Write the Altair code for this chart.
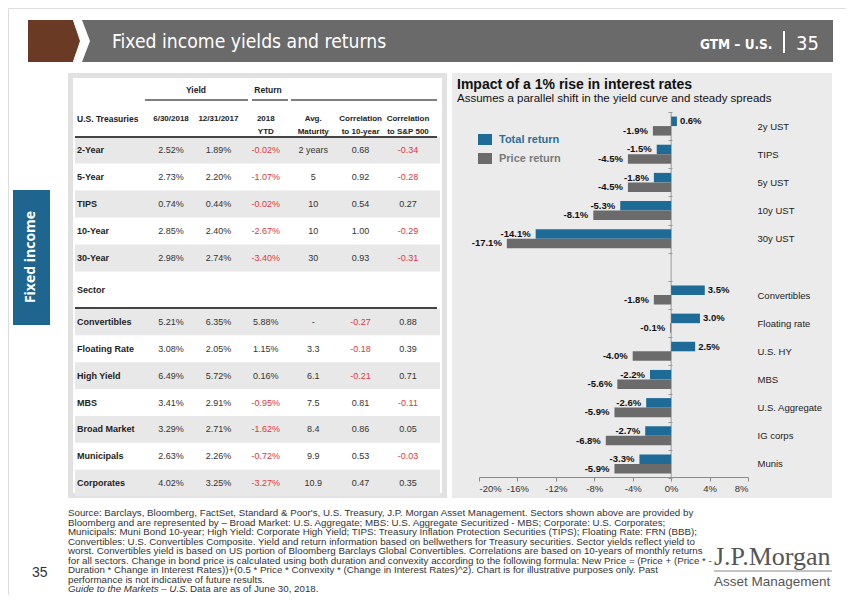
import altair as alt
import pandas as pd

# ---------------- data ----------------
impact_categories = ["2y UST", "TIPS", "5y UST", "10y UST", "30y UST",
                     "Convertibles", "Floating rate", "U.S. HY", "MBS",
                     "U.S. Aggregate", "IG corps", "Munis"]
total_return = [0.6, -1.5, -1.8, -5.3, -14.1, 3.5, 3.0, 2.5, -2.2, -2.6, -2.7, -3.3]
price_return = [-1.9, -4.5, -4.5, -8.1, -17.1, -1.8, -0.1, -4.0, -5.6, -5.9, -6.8, -5.9]
impact_axis_order = impact_categories[:5] + [" "] + impact_categories[5:]
x_ticks = [-20, -16, -12, -8, -4, 0, 4, 8]
series_names = ["Total return", "Price return"]

col_keys = ["y2018", "y2017", "ytd", "mat", "c10", "csp"]
col_headers = ["6/30/2018", "12/31/2017", "2018\nYTD", "Avg.\nMaturity",
               "Correlation\nto 10-year", "Correlation\nto S&P 500"]

treasuries = ["2-Year", "5-Year", "TIPS", "10-Year", "30-Year"]
tsy_yield_2018 = [2.52, 2.73, 0.74, 2.85, 2.98]
tsy_yield_2017 = [1.89, 2.20, 0.44, 2.40, 2.74]
tsy_ytd = [-0.02, -1.07, -0.02, -2.67, -3.40]
tsy_maturity = ["2 years", "5", "10", "10", "30"]
tsy_corr10 = [0.68, 0.92, 0.54, 1.00, 0.93]
tsy_corrsp = [-0.34, -0.28, 0.27, -0.29, -0.31]

sectors = ["Convertibles", "Floating Rate", "High Yield", "MBS",
           "Broad Market", "Municipals", "Corporates"]
sec_yield_2018 = [5.21, 3.08, 6.49, 3.41, 3.29, 2.63, 4.02]
sec_yield_2017 = [6.35, 2.05, 5.72, 2.91, 2.71, 2.26, 3.25]
sec_ytd = [5.88, 1.15, 0.16, -0.95, -1.62, -0.72, -3.27]
sec_maturity = ["-", "3.3", "6.1", "7.5", "8.4", "9.9", "10.9"]
sec_corr10 = [-0.27, -0.18, -0.21, 0.81, 0.86, 0.53, 0.47]
sec_corrsp = [0.88, 0.39, 0.71, -0.11, 0.05, -0.03, 0.35]

footer_lines = [
    "Source: Barclays, Bloomberg, FactSet, Standard & Poor's, U.S. Treasury, J.P. Morgan Asset Management. Sectors shown above are provided by",
    "Bloomberg and are represented by \u2013 Broad Market: U.S. Aggregate; MBS: U.S. Aggregate Securitized - MBS; Corporate: U.S. Corporates;",
    "Municipals: Muni Bond 10-year; High Yield: Corporate High Yield; TIPS: Treasury Inflation Protection Securities (TIPS); Floating Rate: FRN (BBB);",
    "Convertibles: U.S. Convertibles Composite. Yield and return information based on bellwethers for Treasury securities. Sector yields reflect yield to",
    "worst. Convertibles yield is based on US portion of Bloomberg Barclays Global Convertibles. Correlations are based on 10-years of monthly returns",
    "for all sectors. Change in bond price is calculated using both duration and convexity according to the following formula: New Price = (Price + (Price * -",
    "Duration * Change in Interest Rates))+(0.5 * Price * Convexity * (Change in Interest Rates)^2). Chart is for illustrative purposes only. Past",
    "performance is not indicative of future results.",
]
footer_italic = "Guide to the Markets \u2013 U.S."
footer_rest = "Data are as of June 30, 2018."

# ---------------- styles ----------------
FONT = "Liberation Sans, Arial, sans-serif"
COND = "'Liberation Sans Narrow', 'DejaVu Sans Condensed', 'Roboto Condensed', 'Open Sans', sans-serif"
BANNER_GREY = "#6a6a6a"
BROWN = "#6b3a24"
SIDE_BLUE = "#1e6690"
BAR_BLUE = "#1f6b97"
BAR_GREY = "#6b6b6b"
PANEL = "#ebebeb"
SHADE = "#e8e8e8"
RED = "#e0363e"
TXT = "#333333"
FOOT_SIZE = 9.75

one = pd.DataFrame({"k": [0]})
V = alt.value


def box(x1, y1, x2, y2, **kw):
    return alt.Chart(one).mark_rect(**kw).encode(
        x=V(x1 - 8), x2=V(x2 - 8), y=V(y1 - 8), y2=V(y2 - 8))


def hline(x1, x2, y, color, w):
    return alt.Chart(one).mark_rule(color=color, strokeWidth=w).encode(
        x=V(x1 - 8), x2=V(x2 - 8), y=V(y - 8))


def label(x, y, s, **kw):
    kw.setdefault("font", FONT)
    return alt.Chart(one).mark_text(text=s, **kw).encode(x=V(x - 8), y=V(y - 8))


layers = []

# ---------------- header banner ----------------
layers.append(box(76, 20, 833, 62, color=BANNER_GREY))
BROWN_PATH = "M-1.238,-1L0.905,-1L1.238,0L0.905,1L-1.238,1Z"
WHITE_PATH = "M0.905,-1L1.333,-1L1.714,0L1.333,1L0.905,1L1.238,0Z"
layers.append(alt.Chart(one).mark_point(shape=BROWN_PATH, size=1764, filled=True, fill=BROWN,
                                        opacity=1, strokeWidth=0).encode(x=V(46), y=V(33)))
layers.append(alt.Chart(one).mark_point(shape=WHITE_PATH, size=1764, filled=True, fill="white",
                                        opacity=1, strokeWidth=0).encode(x=V(46), y=V(33)))
layers.append(label(112, 48, "Fixed income yields and returns", font=COND, fontSize=19.2,
                    color="white", align="left", baseline="alphabetic"))
layers.append(label(700, 49, "GTM \u2013 U.S.", font=COND, fontSize=13.5, fontWeight="bold",
                    color="white", align="left", baseline="alphabetic"))
layers.append(alt.Chart(one).mark_rule(color="white", strokeWidth=2).encode(
    x=V(776), y=V(23), y2=V(45)))
layers.append(label(796, 50, "35", font=COND, fontSize=20, color="white",
                    align="left", baseline="alphabetic"))

# ---------------- side tab ----------------
layers.append(box(13, 190, 50, 325, color=SIDE_BLUE))
layers.append(label(31, 257, "Fixed income", font="Open Sans, " + FONT, fontSize=14,
                    fontWeight="bold", color="white", angle=270, align="center",
                    baseline="middle"))

# ---------------- table ----------------
layers.append(box(70.5, 75.5, 444.5, 495.5, fill="white", stroke="#e1e1e1", strokeWidth=5))

col_scale = alt.Scale(type="point", domain=col_keys, range=[163, 400], padding=0)


def fmt_pct(v):
    return f"{v:.2f}%"


def fmt_corr(v):
    return f"{v:.2f}"


def cells(rows, y18, y17, ytd, mat, c10, csp):
    recs = []
    for i, r in enumerate(rows):
        vals = [
            (fmt_pct(y18[i]), y18[i] < 0),
            (fmt_pct(y17[i]), y17[i] < 0),
            (fmt_pct(ytd[i]), ytd[i] < 0),
            (mat[i], False),
            (fmt_corr(c10[i]), c10[i] < 0),
            (fmt_corr(csp[i]), csp[i] < 0),
        ]
        for k, (t, neg) in zip(col_keys, vals):
            recs.append({"row": r, "col": k, "txt": t, "sign": "neg" if neg else "pos"})
    return pd.DataFrame(recs)


def table_block(rows, rng, cell_df):
    yenc = alt.Y("row:N", scale=alt.Scale(type="band", domain=rows, range=rng,
                                          paddingInner=0, paddingOuter=0), axis=None)
    shaded = pd.DataFrame({"row": rows[0::2]})
    names = pd.DataFrame({"row": rows})
    out = [
        alt.Chart(shaded).mark_rect(color=SHADE).encode(y=yenc, x=V(67), x2=V(432)),
        alt.Chart(names).mark_text(align="left", baseline="middle", font=FONT, fontSize=9,
                                   fontWeight="bold", color="#222").encode(
            y=yenc, x=V(69), text="row:N"),
        alt.Chart(cell_df).mark_text(align="center", baseline="middle", font=FONT,
                                     fontSize=9).encode(
            y=yenc,
            x=alt.X("col:N", scale=col_scale, axis=None),
            text="txt:N",
            color=alt.Color("sign:N", scale=alt.Scale(domain=["pos", "neg"], range=[TXT, RED]),
                            legend=None)),
    ]
    return out


tsy_df = cells(treasuries, tsy_yield_2018, tsy_yield_2017, tsy_ytd, tsy_maturity, tsy_corr10, tsy_corrsp)
sec_df = cells(sectors, sec_yield_2018, sec_yield_2017, sec_ytd, sec_maturity, sec_corr10, sec_corrsp)

layers += table_block(treasuries, [128.6, 263.4], tsy_df)
layers += table_block(sectors, [300.5, 488.5], sec_df)

# header
layers.append(label(196, 90, "Yield", fontSize=8.5, fontWeight="bold", color="#222",
                    align="center", baseline="middle"))
layers.append(label(268, 90, "Return", fontSize=8.5, fontWeight="bold", color="#222",
                    align="center", baseline="middle"))
layers.append(hline(145, 248, 100, "#555", 1.5))
layers.append(hline(252, 288, 100, "#555", 1.5))
layers.append(hline(291, 437, 100, "#555", 1.5))
layers.append(label(77, 119, "U.S. Treasuries", fontSize=8.5, fontWeight="bold", color="#222",
                    align="left", baseline="middle"))
hdr_df = pd.DataFrame({"col": col_keys, "txt": col_headers})
layers.append(alt.Chart(hdr_df).mark_text(align="center", baseline="middle", font=FONT,
                                          fontSize=8, fontWeight="bold", color="#222",
                                          lineBreak="\n", lineHeight=12.5).encode(
    x=alt.X("col:N", scale=col_scale, axis=None), y=V(111), text="txt:N"))
layers.append(hline(75, 437, 137, "#444", 2))
layers.append(label(77, 290, "Sector", fontSize=9, fontWeight="bold", color="#222",
                    align="left", baseline="middle"))
layers.append(hline(75, 437, 308, "#444", 2))

# ---------------- impact chart ----------------
layers.append(box(452, 73, 832, 498, color=PANEL))
layers.append(label(457, 89, "Impact of a 1% rise in interest rates", fontSize=14,
                    fontWeight="bold", color="#111", align="left", baseline="alphabetic"))
layers.append(label(457, 102, "Assumes a parallel shift in the yield curve and steady spreads",
                    fontSize=11.5, color="#111", align="left", baseline="alphabetic"))

recs = []
for c, t, p in zip(impact_categories, total_return, price_return):
    recs.append({"cat": c, "series": "Total return", "value": t, "label": f"{t:.1f}%"})
    recs.append({"cat": c, "series": "Price return", "value": p, "label": f"{p:.1f}%"})
bars_df = pd.DataFrame(recs)

x_scale = alt.Scale(domain=[-20, 8], range=[471, 740], nice=False)
y_scale = alt.Scale(domain=impact_axis_order, range=[104, 470], paddingInner=0, paddingOuter=0)

zero_df = pd.DataFrame({"z": [0]})
layers.append(alt.Chart(zero_df).mark_rule(color="#9a9a9a", strokeWidth=1).encode(
    x=alt.X("z:Q", scale=x_scale, axis=None), y=V(104), y2=V(469)))

layers.append(alt.Chart(bars_df).mark_bar().encode(
    x=alt.X("value:Q", scale=x_scale,
            axis=alt.Axis(values=x_ticks, labelExpr="datum.value + '%'", offset=-118,
                          grid=False, title=None, domainColor="#8a8a8a", tickColor="#8a8a8a",
                          tickSize=4, labelFontSize=9.5, labelColor="#333", labelFont=FONT,
                          labelPadding=2, zindex=2)),
    y=alt.Y("cat:N", scale=y_scale,
            axis=alt.Axis(orient="left", offset=-664, domain=False, labels=False, ticks=True,
                          tickBand="extent", tickSize=4, tickColor="#9a9a9a", title=None,
                          grid=False, zindex=2)),
    yOffset=alt.YOffset("series:N", scale=alt.Scale(domain=series_names, paddingInner=0,
                                                    paddingOuter=0.48)),
    color=alt.Color("series:N", scale=alt.Scale(domain=series_names, range=[BAR_BLUE, BAR_GREY]),
                    legend=None),
))

first = True
for s, dy in [("Total return", -4.76), ("Price return", 4.76)]:
    for pos in (True, False):
        cond = f"datum.series == '{s}' && datum.value {'>=' if pos else '<'} 0"
        if first:
            yax = alt.Axis(orient="right", offset=-89, domain=False, ticks=False, tickSize=0,
                           labelPadding=0, labelAlign="left", labelBaseline="middle",
                           labelFontSize=9.5, labelColor="#222", labelFont=FONT, title=None,
                           grid=False, zindex=2)
            first = False
        else:
            yax = None
        layers.append(alt.Chart(bars_df).transform_filter(cond).mark_text(
            align="left" if pos else "right", dx=3 if pos else -5, dy=dy, baseline="middle",
            font=FONT, fontSize=9.5, fontWeight="bold", color="#111").encode(
            x=alt.X("value:Q", scale=x_scale, axis=None),
            y=alt.Y("cat:N", scale=y_scale, axis=yax),
            text="label:N"))

# legend
leg_df = pd.DataFrame({"series": series_names})
leg_y = alt.Y("series:N", scale=alt.Scale(type="point", domain=series_names,
                                          range=[131.5, 150.5], padding=0), axis=None)
LEG_PATH = "M-1.27,-1L1.27,-1L1.27,1L-1.27,1Z"
layers.append(alt.Chart(leg_df).mark_point(shape=LEG_PATH, size=121, filled=True, opacity=1,
                                           strokeWidth=0).encode(
    x=V(477), y=leg_y,
    color=alt.Color("series:N", scale=alt.Scale(domain=series_names, range=[BAR_BLUE, BAR_GREY]),
                    legend=None)))
layers.append(alt.Chart(leg_df).mark_text(align="left", baseline="middle", font=FONT,
                                          fontSize=11, fontWeight="bold").encode(
    x=V(491), y=leg_y, text="series:N",
    color=alt.Color("series:N", scale=alt.Scale(domain=series_names, range=["#2a6f9b", "#7a7a7a"]),
                    legend=None)))

# ---------------- footer ----------------
foot_scale = alt.Scale(type="point", domain=list(range(9)), range=[505, 581], padding=0)
foot_df = pd.DataFrame({"i": list(range(len(footer_lines))), "txt": footer_lines})
layers.append(alt.Chart(foot_df).mark_text(align="left", baseline="middle", font=FONT,
                                           fontSize=FOOT_SIZE, color="#333").encode(
    x=V(60), y=alt.Y("i:O", scale=foot_scale, axis=None), text="txt:N"))
last_df = pd.DataFrame({"i": [8], "a": [footer_italic], "b": [footer_rest]})
layers.append(alt.Chart(last_df).mark_text(align="left", baseline="middle", font=FONT,
                                           fontSize=FOOT_SIZE, fontStyle="italic", color="#333").encode(
    x=V(60), y=alt.Y("i:O", scale=foot_scale, axis=None), text="a:N"))
layers.append(alt.Chart(last_df).mark_text(align="left", baseline="middle", font=FONT,
                                           fontSize=FOOT_SIZE, color="#333").encode(
    x=V(182), y=alt.Y("i:O", scale=foot_scale, axis=None), text="b:N"))

layers.append(label(32, 573, "35", fontSize=14, color="#333", align="left", baseline="middle"))

# logo
layers.append(label(714, 565, "J.P.Morgan", font="Liberation Serif, 'Times New Roman', serif",
                    fontSize=26, color="#555", align="left", baseline="alphabetic"))
layers.append(hline(714, 832, 571, "#888", 1))
layers.append(label(714, 586, "Asset Management", fontSize=13.5, color="#555",
                    align="left", baseline="alphabetic"))

chart = alt.layer(*layers).resolve_scale(
    x="independent", y="independent", color="independent", yOffset="independent"
).properties(
    width=838, height=587, padding=0, autosize=alt.AutoSizeParams(type="none")
).configure_view(strokeWidth=0).configure(background="white")

chart.save("out.html", embed_options={"renderer": "svg", "actions": False})
